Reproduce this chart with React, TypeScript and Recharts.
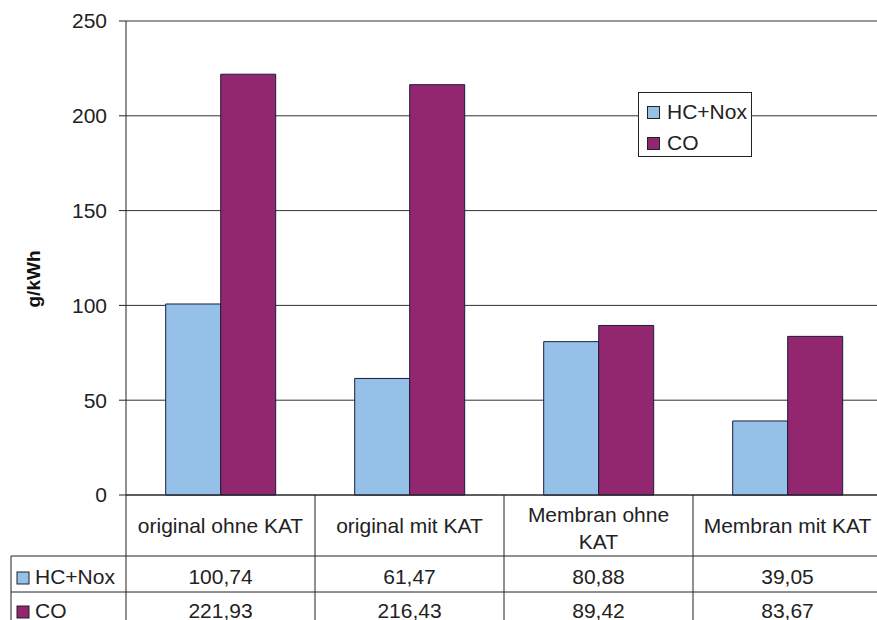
import React from 'react';
import { BarChart, Bar, XAxis, YAxis, CartesianGrid, Legend } from 'recharts';

const categories = ['original ohne KAT', 'original mit KAT', 'Membran ohne KAT', 'Membran mit KAT'];
const hcNox = [100.74, 61.47, 80.88, 39.05];
const co = [221.93, 216.43, 89.42, 83.67];
const yTicks = [0, 50, 100, 150, 200, 250];

const seriesNames = { hc: 'HC+Nox', co: 'CO' };
const seriesOrder = [seriesNames.hc, seriesNames.co];
const colors = { hc: '#95C0E8', co: '#922770' };

// Excel wraps this header cell onto two lines
const headerLines: Record<string, string[]> = {
  'Membran ohne KAT': ['Membran ohne', 'KAT'],
};

const data = categories.map((name, i) => ({ name, hc: hcNox[i], co: co[i] }));

const FONT = '"Liberation Sans", Arial, sans-serif';
const FS = 21;
const CHART_W = 882;
const CHART_H = 620;
const LEFT = 126;
const BAND = (CHART_W - LEFT) / categories.length;
const fmt = (v: number) => v.toFixed(2).replace('.', ',');

const TableTick = (props: any) => {
  const { x, y, payload } = props;
  const i = payload.index;
  const l = x - BAND / 2;
  const r = x + BAND / 2;
  const row1 = y + 61;
  const row2 = y + 97;
  const lines = headerLines[payload.value] || [payload.value];
  const stroke = '#222';
  return (
    <g fontFamily={FONT} fontSize={FS} fill="#222">
      {i === 0 && (
        <g>
          <line x1={l} y1={y} x2={l} y2={CHART_H} stroke={stroke} />
          <line x1={11} y1={row1} x2={l} y2={row1} stroke={stroke} />
          <line x1={11} y1={row2} x2={l} y2={row2} stroke={stroke} />
          <line x1={11} y1={row1} x2={11} y2={CHART_H} stroke={stroke} />
          <rect x={17} y={row1 + 16} width={12} height={12} fill={colors.hc} stroke="#222" />
          <text x={35} y={row1 + 20} dominantBaseline="central">{seriesNames.hc}</text>
          <rect x={17} y={row2 + 14} width={12} height={12} fill={colors.co} stroke="#222" />
          <text x={35} y={row2 + 18} dominantBaseline="central">{seriesNames.co}</text>
        </g>
      )}
      <line x1={r} y1={y} x2={r} y2={CHART_H} stroke={stroke} />
      <line x1={l} y1={row1} x2={r} y2={row1} stroke={stroke} />
      <line x1={l} y1={row2} x2={r} y2={row2} stroke={stroke} />
      {lines.map((t, k) => (
        <text key={k} x={x} y={lines.length === 1 ? y + 30 : y + 19 + k * 27} textAnchor="middle"
          dominantBaseline="central">{t}</text>
      ))}
      <text x={x} y={row1 + 20} textAnchor="middle" dominantBaseline="central">{fmt(hcNox[i])}</text>
      <text x={x} y={row2 + 18} textAnchor="middle" dominantBaseline="central">{fmt(co[i])}</text>
    </g>
  );
};

const LegendBox = ({ payload }: any) => {
  const items = [...(payload || [])].sort((a: any, b: any) => seriesOrder.indexOf(a.value) - seriesOrder.indexOf(b.value));
  return (
    <div style={{ border: '1px solid #222', background: '#fff', width: 114, height: 65, boxSizing: 'border-box', padding: '5px 0 0 8px', fontFamily: FONT, fontSize: FS, color: '#222' }}>
      {items.map((p: any) => (
        <div key={p.value} style={{ display: 'flex', alignItems: 'center', height: 28, marginBottom: 3, lineHeight: '28px' }}>
          <span style={{ width: 11, height: 11, background: p.color, border: '1px solid #222', marginRight: 7, display: 'inline-block' }} />
          {p.value}
        </div>
      ))}
    </div>
  );
};

const YLabel = ({ viewBox }: any) => {
  const cy = 279;
  return (
    <text x={33} y={cy} transform={`rotate(-90, 33, ${cy})`} textAnchor="middle" dominantBaseline="central"
      fontFamily={FONT} fontWeight="bold" fontSize={19} fill="#111">g/kWh</text>
  );
};

export default function App() {
  return (
    <div style={{ width: 877, height: 620, overflow: 'hidden', background: '#fff', position: 'relative' }}>
      <style>{'body{margin:0}'}</style>
      <BarChart width={CHART_W} height={CHART_H} data={data} margin={{ top: 21, right: 0, bottom: 0, left: 0 }}
        barCategoryGap="21%" barGap={0}>
        <CartesianGrid vertical={false} stroke="#333" />
        <XAxis dataKey="name" height={125} axisLine={{ stroke: '#222' }} tickLine={false} tickSize={0} tickMargin={0}
          tick={<TableTick />} interval={0} />
        <YAxis width={LEFT} domain={[0, 250]} ticks={yTicks} tickSize={7} axisLine={{ stroke: '#222' }}
          tickLine={{ stroke: '#222' }} tickMargin={12}
          tick={{ fill: '#222', fontSize: FS, fontFamily: FONT }} label={<YLabel />} />
        <Legend layout="vertical" align="center" verticalAlign="middle" content={<LegendBox />}
          wrapperStyle={{ left: 638, top: 92, width: 114 }} />
        <Bar dataKey="hc" name={seriesNames.hc} fill={colors.hc} stroke="#1c1c3c" isAnimationActive={false} />
        <Bar dataKey="co" name={seriesNames.co} fill={colors.co} stroke="#1c1c3c" isAnimationActive={false} />
      </BarChart>
    </div>
  );
}
